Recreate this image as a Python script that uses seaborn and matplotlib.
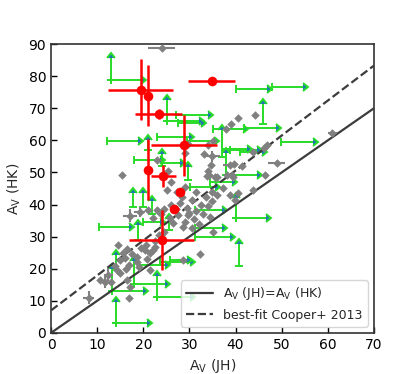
import numpy as np
import pandas as pd
import matplotlib
matplotlib.use("Agg")
import matplotlib.pyplot as plt
import seaborn as sns

# ---------------- data ----------------
# gray detections
gray_x = [24.0, 61.0, 40.5, 44.3, 39.1, 37.9, 35.1, 34.1, 33.1, 34.8, 46.8, 46.1, 43.8, 48.9,
          34.6, 39.7, 38.8, 41.3, 29.8, 29.0, 22.9, 15.3, 25.3, 38.1, 39.4, 33.9, 35.5, 46.4,
          26.1, 25.1, 27.2, 17.1, 19.2, 21.1, 22.9, 22.2, 25.8, 26.5, 27.6, 29.0, 29.8, 28.7,
          30.5, 14.6, 20.4, 22.5, 22.2, 21.5, 18.6, 18.6, 16.0, 15.0, 14.2, 15.0, 12.4, 10.6,
          13.1, 16.4, 17.1, 16.8, 8.2, 11.7, 28.7, 32.2, 35.2, 35.9, 34.2, 40.6, 38.8, 34.5,
          37.3, 34.8, 43.8, 21.5, 28.0, 29.5, 30.5, 31.5, 32.5, 33.0, 30.0, 31.0, 32.0, 33.5,
          34.0, 35.0, 36.0, 27.0, 28.5, 26.0, 24.5, 23.8, 29.0, 31.5, 15.5, 16.5, 17.5, 19.5,
          20.5, 17.0, 19.0, 16.2, 20.8, 22.5, 23.5, 24.5, 13.8, 39.9, 34.1, 39.2]
gray_y = [88.9, 62.2, 66.9, 67.8, 65.0, 63.5, 59.7, 58.5, 55.8, 55.0, 58.6, 57.5, 56.5, 53.1,
          52.3, 52.7, 52.2, 52.0, 59.0, 56.0, 53.8, 49.2, 50.3, 49.2, 48.7, 48.9, 48.7, 49.2,
          47.1, 44.5, 44.0, 36.5, 37.6, 38.3, 38.3, 35.7, 35.7, 34.1, 36.7, 34.7, 36.7, 33.1,
          32.6, 27.4, 25.8, 26.9, 25.8, 24.8, 23.8, 22.2, 23.3, 22.6, 19.6, 18.6, 18.1, 16.5,
          16.0, 16.5, 14.4, 10.8, 11.0, 16.0, 22.7, 24.7, 31.3, 48.7, 49.2, 43.5, 43.0, 36.2,
          45.0, 44.0, 44.5, 19.6, 40.5, 39.0, 41.5, 38.0, 40.0, 37.0, 37.5, 35.5, 34.0, 42.5,
          39.5, 41.0, 43.0, 38.5, 42.5, 40.0, 38.5, 37.0, 45.5, 44.0, 25.0, 26.0, 24.5, 26.5,
          27.5, 21.0, 20.5, 20.0, 23.0, 28.5, 30.5, 31.5, 20.8, 41.4, 50.3, 49.2]
# gray points that carry visible error bars
grayerr_x = [24.0, 61.0, 34.8, 48.9, 38.8, 17.1, 19.2, 12.4, 8.2, 11.7]
grayerr_y = [88.9, 62.2, 55.0, 53.1, 52.2, 36.5, 37.6, 18.1, 11.0, 16.0]
grayerr_dx = [2.9, 1.0, 1.8, 1.8, 1.6, 1.5, 1.2, 1.0, 1.2, 0.0]
grayerr_dy = [0.0, 0.0, 1.8, 0.0, 0.0, 2.0, 1.5, 2.0, 2.0, 2.0]

# red sources
red_x = [34.8, 19.4, 21.1, 23.3, 28.8, 21.1, 24.3, 28.0, 26.7, 24.0]
red_y = [78.4, 75.8, 73.9, 68.3, 58.5, 50.9, 48.9, 43.8, 38.5, 29.0]
red_dx = [5.1, 7.0, 0.0, 5.1, 7.2, 0.0, 2.7, 0.0, 1.0, 7.0]
red_dy = [0.0, 9.5, 9.5, 1.5, 9.5, 9.6, 3.4, 0.0, 1.0, 9.3]

# green lower limits: x, y, right-arrow length, up-arrow length
lim_x = [13.1, 40.1, 47.9, 25.1, 27.1, 27.5, 45.9, 35.1, 41.8, 12.1, 23.0, 29.5, 21.0, 18.0,
         24.0, 24.0, 49.8, 37.1, 37.1, 38.8, 41.0, 37.9, 34.5, 40.0, 31.2, 31.2, 31.2, 40.8,
         14.0, 23.0, 13.2, 18.0, 18.9, 23.6, 14.0, 10.3, 18.9, 17.8, 20.0, 21.8, 20.0, 25.8,
         29.8, 30.1, 25.5]
lim_y = [78.8, 76.0, 76.6, 66.0, 67.9, 65.5, 65.0, 63.4, 63.8, 59.8, 61.0, 59.8, 57.0, 53.8,
         52.0, 52.9, 59.6, 54.9, 57.3, 57.0, 56.4, 49.2, 47.1, 35.9, 30.0, 32.8, 38.2, 20.9,
         3.2, 11.1, 13.2, 15.3, 21.2, 22.2, 19.6, 33.1, 29.0, 39.2, 39.2, 37.0, 34.7, 22.7,
         47.6, 45.6, 32.0]
lim_dx = [6.3, 6.7, 6.8, 7.0, 7.0, 5.0, 0.0, 6.6, 7.0, 6.7, 7.0, 5.8, 0.0, 5.6,
          0.0, 4.0, 7.0, 0.0, 5.4, 5.8, 4.8, 6.7, 4.8, 6.7, 7.6, 5.8, 5.8, 0.0,
          6.7, 7.2, 6.8, 6.7, 5.8, 6.5, 0.0, 6.5, 0.0, 0.0, 0.0, 0.0, 3.6, 3.6,
          0.0, 5.5, 0.0]
lim_dy = [7.0, 0.0, 0.0, 6.5, 0.0, 0.0, 6.3, 0.0, 0.0, 0.0, 0.0, 0.0, 3.0, 0.0,
          3.7, 0.0, 0.0, 8.3, 0.0, 0.0, 0.0, 7.0, 0.0, 6.0, 0.0, 0.0, 0.0, 6.8,
          6.5, 6.6, 6.7, 7.0, 0.0, 0.0, 4.7, 0.0, 4.7, 4.4, 4.4, 4.0, 0.0, 0.0,
          4.0, 0.0, 3.5]

# relations
line_x = [0, 70]
one_to_one = [0, 70]
cooper_slope, cooper_icpt = 1.09, 7.0

# ---------------- plot ----------------
sns.set_style("white")
plt.rcParams['font.family'] = ['DejaVu Sans']
fig = plt.figure(figsize=(4.15, 3.74), dpi=100)
ax = fig.add_axes([0.123, 0.110, 0.778, 0.772])

green = '#28dc28'
lx = np.array(lim_x); ly = np.array(lim_y)
ldx = np.array(lim_dx); ldy = np.array(lim_dy)
mx = ldx > 0
ax.errorbar(lx[mx], ly[mx], xerr=ldx[mx], xlolims=True, fmt='none',
            ecolor=green, elinewidth=1.4, capsize=2.6, capthick=1.4, zorder=2)
my = ldy > 0
ax.errorbar(lx[my], ly[my], yerr=ldy[my], lolims=True, fmt='none',
            ecolor=green, elinewidth=1.4, capsize=2.6, capthick=1.4, zorder=2)

# lines
df_lines = pd.DataFrame({"x": line_x, "one": one_to_one,
                         "fit": [cooper_icpt + cooper_slope * v for v in line_x]})
sns.lineplot(data=df_lines, x="x", y="one", ax=ax, color='#3c3c3c', lw=1.6,
             label=r'A$_\mathrm{V}$ (JH)=A$_\mathrm{V}$ (HK)', zorder=3)
sns.lineplot(data=df_lines, x="x", y="fit", ax=ax, color='#3c3c3c', lw=1.6,
             linestyle='--', label='best-fit Cooper+ 2013', zorder=3)

# gray
ax.errorbar(grayerr_x, grayerr_y, xerr=grayerr_dx, yerr=grayerr_dy, fmt='none',
            ecolor='gray', elinewidth=1.5, zorder=3)
sns.scatterplot(x=gray_x, y=gray_y, ax=ax, marker='D', s=19, color='gray',
                edgecolor='gray', linewidth=0, zorder=4, legend=False)

# red
ax.errorbar(red_x, red_y, xerr=red_dx, yerr=red_dy, fmt='none', ecolor='red',
            elinewidth=1.8, zorder=5)
sns.scatterplot(x=red_x, y=red_y, ax=ax, marker='o', s=48, color='red',
                edgecolor='red', linewidth=0, zorder=6, legend=False)

ax.set_xlim(0, 70)
ax.set_ylim(0, 90)
ax.set_xticks(range(0, 71, 10))
ax.set_yticks(range(0, 91, 10))
ax.tick_params(direction='in', length=4, width=1, labelsize=10, colors='black',
               bottom=True, left=True, top=False, right=False)
for s in ax.spines.values():
    s.set_color('#333333')
    s.set_linewidth(1.2)
ax.set_xlabel(r'A$_\mathrm{V}$ (JH)', fontsize=10)
ax.set_ylabel(r'A$_\mathrm{V}$ (HK)', fontsize=10)
ax.legend(loc='lower right', fontsize=9, frameon=True, handlelength=2.2,
          borderaxespad=0.5)

fig.savefig("out.png", dpi=100)
